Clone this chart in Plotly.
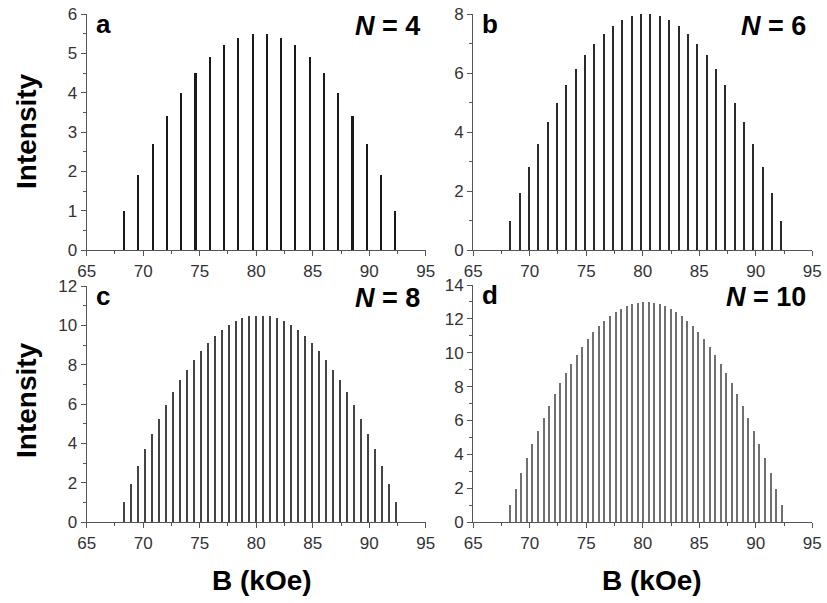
import plotly.graph_objects as go

# ---- data ----
x_a = [68.30, 69.56, 70.83, 72.09, 73.35, 74.62, 75.88, 77.14, 78.41, 79.67,
       80.93, 82.19, 83.46, 84.72, 85.98, 87.25, 88.51, 89.77, 91.04, 92.30]
y_a = [1.0, 1.9, 2.7, 3.4, 4.0, 4.5, 4.9, 5.2, 5.4, 5.5,
       5.5, 5.4, 5.2, 4.9, 4.5, 4.0, 3.4, 2.7, 1.9, 1.0]

x_b = [68.30, 69.13, 69.96, 70.78, 71.61, 72.44, 73.27, 74.09, 74.92, 75.75,
       76.58, 77.40, 78.23, 79.06, 79.89, 80.71, 81.54, 82.37, 83.20, 84.02,
       84.85, 85.68, 86.51, 87.33, 88.16, 88.99, 89.82, 90.64, 91.47, 92.30]
y_b = [1.00, 1.93, 2.80, 3.60, 4.33, 5.00, 5.60, 6.13, 6.60, 7.00,
       7.33, 7.60, 7.80, 7.93, 8.00, 8.00, 7.93, 7.80, 7.60, 7.33,
       7.00, 6.60, 6.13, 5.60, 5.00, 4.33, 3.60, 2.80, 1.93, 1.00]

x_c = [68.30, 68.92, 69.53, 70.15, 70.76, 71.38, 71.99, 72.61, 73.22, 73.84,
       74.45, 75.07, 75.68, 76.30, 76.92, 77.53, 78.15, 78.76, 79.38, 79.99,
       80.61, 81.22, 81.84, 82.45, 83.07, 83.68, 84.30, 84.92, 85.53, 86.15,
       86.76, 87.38, 87.99, 88.61, 89.22, 89.84, 90.45, 91.07, 91.68, 92.30]
y_c = [1.00, 1.95, 2.85, 3.70, 4.50, 5.25, 5.95, 6.60, 7.20, 7.75,
       8.25, 8.70, 9.10, 9.45, 9.75, 10.00, 10.20, 10.35, 10.45, 10.50,
       10.50, 10.45, 10.35, 10.20, 10.00, 9.75, 9.45, 9.10, 8.70, 8.25,
       7.75, 7.20, 6.60, 5.95, 5.25, 4.50, 3.70, 2.85, 1.95, 1.00]

x_d = [68.30, 68.79, 69.28, 69.77, 70.26, 70.75, 71.24, 71.73, 72.22, 72.71,
       73.20, 73.69, 74.18, 74.67, 75.16, 75.65, 76.14, 76.63, 77.12, 77.61,
       78.10, 78.59, 79.08, 79.57, 80.06, 80.54, 81.03, 81.52, 82.01, 82.50,
       82.99, 83.48, 83.97, 84.46, 84.95, 85.44, 85.93, 86.42, 86.91, 87.40,
       87.89, 88.38, 88.87, 89.36, 89.85, 90.34, 90.83, 91.32, 91.81, 92.30]
y_d = [1.00, 1.96, 2.88, 3.76, 4.60, 5.40, 6.16, 6.88, 7.56, 8.20,
       8.80, 9.36, 9.88, 10.36, 10.80, 11.20, 11.56, 11.88, 12.16, 12.40,
       12.60, 12.76, 12.88, 12.96, 13.00, 13.00, 12.96, 12.88, 12.76, 12.60,
       12.40, 12.16, 11.88, 11.56, 11.20, 10.80, 10.36, 9.88, 9.36, 8.80,
       8.20, 7.56, 6.88, 6.16, 5.40, 4.60, 3.76, 2.88, 1.96, 1.00]

panel_letters = ["a", "b", "c", "d"]
panel_N = ["4", "6", "8", "10"]
y_max = [6, 8, 12, 14]
y_dtick = [1, 2, 2, 2]
y_minor = [0.5, 1, 1, 1]
x_ticks = [65, 70, 75, 80, 85, 90, 95]

W, H = 827, 603
FONT = "Liberation Sans, Arial, sans-serif"

series = [(x_a, y_a), (x_b, y_b), (x_c, y_c), (x_d, y_d)]
bar_widths = [0.14, 0.11, 0.10, 0.09]
bar_colors = ["#1a1a1a", "#2a2a2a", "#444444", "#707070"]

# pixel layout (page coordinates) of each plot area: (left, right, top, bottom)
px = [(86.7, 425.8, 14, 250), (473.2, 812.3, 14, 250),
      (86.7, 425.8, 286, 522), (473.2, 812.3, 285, 522)]


def fx(p):
    return p / W


def fy(p):
    return 1 - p / H


fig = go.Figure()
layout = {}
for i, ((xs, ys), (l, r, t, b)) in enumerate(zip(series, px)):
    sfx = "" if i == 0 else str(i + 1)
    fig.add_trace(go.Bar(x=xs, y=ys, width=bar_widths[i],
                         marker=dict(color=bar_colors[i], line=dict(width=0)),
                         xaxis="x" + sfx, yaxis="y" + sfx, showlegend=False,
                         hoverinfo="skip"))
    axis_common = dict(showline=True, linecolor="#555", linewidth=1.3,
                       ticks="outside", ticklen=5, tickwidth=1.2, tickcolor="#555",
                       showgrid=False, zeroline=False, automargin=False,
                       ticklabeloverflow="allow",
                       tickfont=dict(family=FONT, size=17, color="#333"))
    layout["xaxis" + sfx] = dict(axis_common, domain=[fx(l), fx(r)], range=[65, 95],
                                 anchor="y" + sfx, tickvals=x_ticks,
                                 minor=dict(dtick=2.5, tick0=65, ticks="outside",
                                            ticklen=3, tickcolor="#555"))
    layout["yaxis" + sfx] = dict(axis_common, domain=[fy(b), fy(t)],
                                 range=[0, y_max[i]], anchor="x" + sfx,
                                 dtick=y_dtick[i], tick0=0,
                                 minor=dict(dtick=y_minor[i], ticks="outside",
                                            ticklen=3, tickcolor="#555"))

annotations = []
for i, (l, r, t, b) in enumerate(px):
    annotations.append(dict(text="<b>" + panel_letters[i] + "</b>", xref="paper", yref="paper",
                            x=fx(l + 7), y=fy(t + 10), xanchor="left", yanchor="middle",
                            showarrow=False, font=dict(family=FONT, size=26, color="#000")))
    annotations.append(dict(text="<b><i>N</i> = " + panel_N[i] + "</b>", xref="paper", yref="paper",
                            x=fx(r - 4), y=fy(t + 12), xanchor="right", yanchor="middle",
                            showarrow=False, font=dict(family=FONT, size=27, color="#000")))
for yc in [131, 400]:
    annotations.append(dict(text="<b>Intensity</b>", xref="paper", yref="paper",
                            x=fx(26), y=fy(yc), xanchor="center", yanchor="middle",
                            textangle=-90, showarrow=False,
                            font=dict(family=FONT, size=28, color="#000")))
for xc in [262, 652]:
    annotations.append(dict(text="<b>B (kOe)</b>", xref="paper", yref="paper",
                            x=fx(xc), y=fy(580), xanchor="center", yanchor="middle",
                            showarrow=False, font=dict(family=FONT, size=28, color="#000")))

fig.update_layout(width=W, height=H, margin=dict(l=0, r=0, t=0, b=0, autoexpand=False),
                  paper_bgcolor="white", plot_bgcolor="white", hovermode=False,
                  bargap=0, annotations=annotations, **layout)
# remove the default page margin so the figure sits at the window's top-left corner
fig.write_html("out.html", config={"displayModeBar": False},
               post_script="document.body.style.margin='0';document.body.style.overflow='hidden';")
